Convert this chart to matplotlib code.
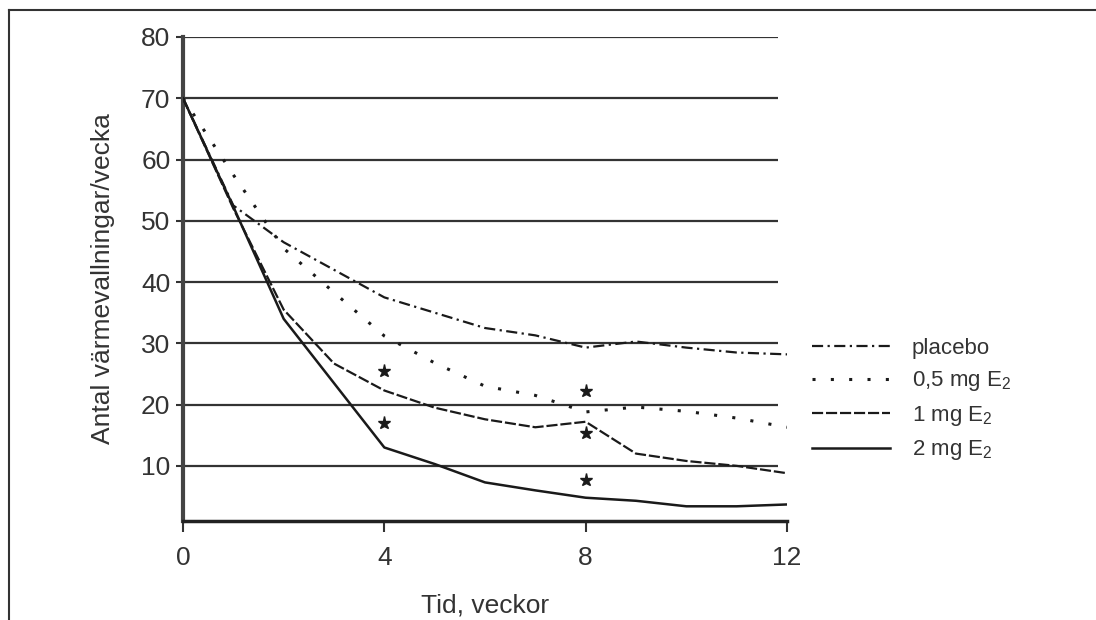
import numpy as np
import matplotlib.pyplot as plt
from matplotlib.lines import Line2D

plt.rcParams['font.family'] = ['Liberation Sans', 'DejaVu Sans']
plt.rcParams['mathtext.default'] = 'regular'

# data
weeks = [0, 1, 2, 3, 4, 5, 6, 7, 8, 9, 10, 11, 12]
placebo = [70, 52.5, 46.5, 42, 37.5, 35, 32.5, 31.3, 29.3, 30.3, 29.3, 28.5, 28.2]
e2_05 = [70, 57.5, 45.5, 38.3, 31.2, 26.8, 23, 21.5, 18.8, 19.6, 18.9, 17.8, 16.3]
e2_1 = [70, 52, 35.5, 26.7, 22.3, 19.5, 17.6, 16.3, 17.2, 12, 10.8, 10, 8.8]
e2_2 = [70, 52.3, 34, 23.5, 13, 10.3, 7.3, 6, 4.8, 4.3, 3.4, 3.4, 3.7]
star_x = [4, 4, 8, 8, 8]
star_y = [25.5, 17.0, 22.2, 15.3, 7.7]
labels = ['placebo', '0,5 mg E$_{2}$', '1 mg E$_{2}$', '2 mg E$_{2}$']
yticks = [10, 20, 30, 40, 50, 60, 70, 80]
xticks = [0, 4, 8, 12]

fig = plt.figure(figsize=(10.96, 6.20), dpi=100)
ax = fig.add_axes([183/1096, 1 - 521/620, 604/1096, 484/620])

# horizontal grid lines
ax.hlines(yticks, 0, 11.82, color='#333333', lw=1.6, zorder=1)

col = '#1a1a1a'
l1, = ax.plot(weeks, placebo, color=col, lw=1.6, dashes=(5, 2, 1, 2), zorder=3)
l2, = ax.plot(weeks, e2_05, color=col, lw=2.2, dashes=(1, 5), zorder=3)
l3, = ax.plot(weeks, e2_1, color=col, lw=1.6, dashes=(5, 1.3), zorder=3)
l4, = ax.plot(weeks, e2_2, color=col, lw=1.8, zorder=3)
ax.plot(star_x, star_y, '*', color=col, ms=9.5, zorder=4)

ax.set_xlim(0, 12)
ax.set_ylim(1, 80)
ax.set_xticks(xticks)
ax.set_yticks(yticks)
ax.tick_params(axis='x', direction='out', length=8, width=1.5, pad=10,
               labelsize=19, colors='#333333')
ax.tick_params(axis='y', direction='out', length=5, width=1.5, pad=4,
               labelsize=19, colors='#333333')
for s in ['top', 'right']:
    ax.spines[s].set_visible(False)
ax.spines['left'].set_linewidth(3)
ax.spines['left'].set_color('#444444')
ax.spines['bottom'].set_linewidth(2.5)
ax.spines['bottom'].set_color('#222222')

ax.set_xlabel('Tid, veckor', fontsize=19, color='#333333', labelpad=17)
ax.set_ylabel('Antal värmevallningar/vecka', fontsize=19, color='#333333', labelpad=19)

fig.legend([l1, l2, l3, l4], labels, loc='upper left',
           bbox_to_anchor=(812/1096, 1 - 338/620), frameon=False,
           fontsize=16, handlelength=3.5, handletextpad=1.0,
           labelspacing=0.47, borderpad=0, borderaxespad=0,
           labelcolor='#333333')

# frame around the picture (top and left edge only)
fig.add_artist(Line2D([9/1096, 1], [1 - 10/620, 1 - 10/620],
                      transform=fig.transFigure, color='#333333', lw=1.5))
fig.add_artist(Line2D([9/1096, 9/1096], [0, 1 - 10/620],
                      transform=fig.transFigure, color='#333333', lw=1.5))

plt.savefig('out.png', dpi=100)
